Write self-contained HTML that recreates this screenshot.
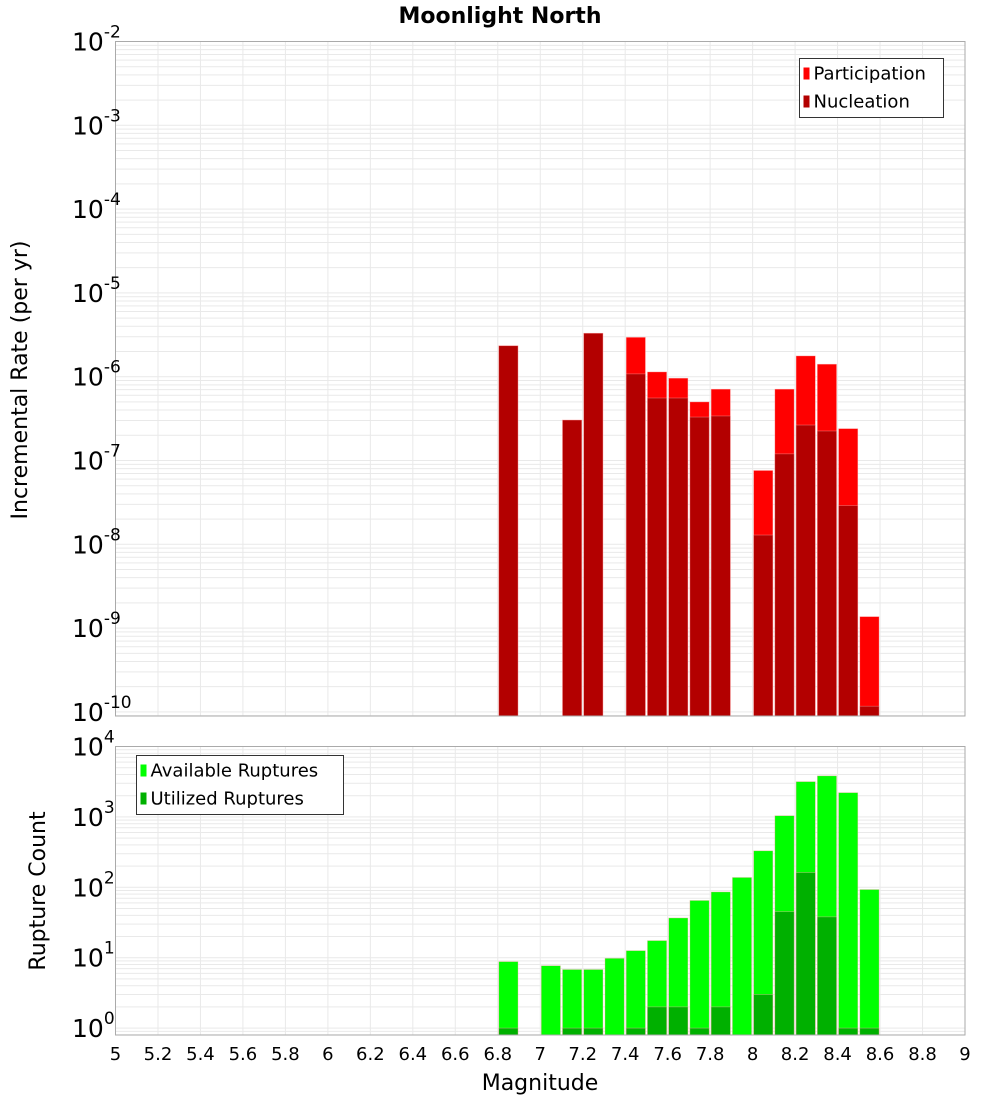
<!DOCTYPE html>
<html><head><meta charset="utf-8"><style>
body{margin:0;background:#fff;font-family:"Liberation Sans","DejaVu Sans",sans-serif}
svg text{font-family:"DejaVu Sans","Liberation Sans",sans-serif}
</style></head><body>
<svg id="c" width="1000" height="1100" xmlns="http://www.w3.org/2000/svg"></svg>
<script>
const mags=[6.8,7.0,7.1,7.2,7.3,7.4,7.5,7.6,7.7,7.8,7.9,8.0,8.1,8.2,8.3,8.4,8.5];
const participation=[2.34e-6,0,3.04e-7,3.3e-6,0,2.95e-6,1.14e-6,9.6e-7,5.0e-7,7.1e-7,0,7.6e-8,7.1e-7,1.77e-6,1.41e-6,2.4e-7,1.37e-9];
const nucleation=[2.34e-6,0,3.04e-7,3.3e-6,0,1.08e-6,5.57e-7,5.57e-7,3.3e-7,3.4e-7,0,1.29e-8,1.2e-7,2.65e-7,2.25e-7,2.9e-8,1.17e-10];
const available=[8.8,7.7,6.8,6.8,9.8,12.6,17.5,36.7,65,86,138,330,1040,3170,3830,2210,93];
const utilized=[1,0,1,1,0,1,2,2,1,2,0,3,45,162,38,1,1];
const xTicks=[5,5.2,5.4,5.6,5.8,6,6.2,6.4,6.6,6.8,7,7.2,7.4,7.6,7.8,8,8.2,8.4,8.6,8.8,9];
const topExp=[-2,-3,-4,-5,-6,-7,-8,-9,-10];
const botExp=[4,3,2,1,0];

const svg=document.getElementById('c');const NS='http://www.w3.org/2000/svg';
function el(t,a,p){const e=document.createElementNS(NS,t);for(const k in a)e.setAttribute(k,a[k]);(p||svg).appendChild(e);return e;}
const X0=115.5,X1=965;
const x=m=>X0+(m-5)/4*(X1-X0);
const T={top:41.5,bot:716,d:83.8};
const yT=v=>T.top+(-2-Math.log10(v))*T.d;
const B={top:746.5,bot:1035,d:70.4};
const yB=v=>B.top+(4-Math.log10(v))*B.d;

function grid(P,yf,e0,e1,name){
  const g=el('g',{});
  
  
  for(let e=e0;e<=e1;e++)for(let k=1;k<10;k++){const y=yf(k*Math.pow(10,e));if(y<P.top||y>P.bot)continue;
    el('line',{x1:X0,x2:X1,y1:y,y2:y,stroke:'#e9e9e9','stroke-width':1},g);}
  xTicks.forEach(t=>el('line',{x1:x(t),x2:x(t),y1:P.top,y2:P.bot,stroke:'#e9e9e9','stroke-width':1},g));
}
grid(T,yT,-11,-2,'top-grid');
grid(B,yB,-1,4,'bottom-grid');

function bars(vals,yf,P,fill,name){
  vals.forEach((v,i)=>{if(!v)return;const y=Math.max(yf(v),P.top);
    const r=el('rect',{x:x(mags[i])+1,y:y,width:x(mags[i]+0.1)-x(mags[i])-2,height:P.bot-y,fill:fill,stroke:'#ffb0b0','stroke-width':0.6,'stroke-opacity':0.6});
    
    });
}
bars(participation,yT,T,'#ff0000','participation-bar');
bars(nucleation,yT,T,'#b30000','nucleation-bar');
bars(available,yB,B,'#00ff00','available-bar');
bars(utilized,yB,B,'#00b000','utilized-bar');

[T,B].forEach((P,i)=>{const r=el('rect',{x:X0,y:P.top,width:X1-X0,height:P.bot-P.top,fill:'none',stroke:'#aaa','stroke-width':1});
  });

function ylab(e,y,name){const t=el('text',{x:108,y:y+9,'text-anchor':'end','font-size':25,fill:'#000'});
  
  t.textContent='10';const s=el('tspan',{dy:-13,'font-size':17},t);s.textContent=String(e).replace('-','-');
  t.setAttribute('text-anchor','start');t.setAttribute('x',72);}
topExp.forEach(e=>ylab(e,yT(Math.pow(10,e)),'top-y-tick-label'));
botExp.forEach(e=>ylab(e,yB(Math.pow(10,e)),'bottom-y-tick-label'));
xTicks.forEach(t=>{const s=el('text',{x:x(t),y:1060,'text-anchor':'middle','font-size':18,fill:'#000'});
  s.textContent=String(t);});

function txt(s,a,name){const t=el('text',a);t.textContent=s;return t;}
txt('Moonlight North',{x:500,y:23,'text-anchor':'middle','font-size':22,'font-weight':'bold'},'chart-title');
txt('Magnitude',{x:540,y:1090,'text-anchor':'middle','font-size':22},'x-axis-title');
txt('Incremental Rate (per yr)',{x:0,y:0,'text-anchor':'middle','font-size':22,transform:'translate(27,380) rotate(-90)'},'top-y-axis-title');
txt('Rupture Count',{x:0,y:0,'text-anchor':'middle','font-size':22,transform:'translate(45,891) rotate(-90)'},'bottom-y-axis-title');

function legend(x0,y0,w,items,name){const g=el('g',{});
  el('rect',{x:x0,y:y0,width:w,height:59,fill:'#fff',stroke:'#333','stroke-width':1},g);
  items.forEach((it,i)=>{el('rect',{x:x0+4,y:y0+9+i*28,width:6,height:12,fill:it[1]},g);
    const t=el('text',{x:x0+14,y:y0+21+i*28,'font-size':18},g);t.textContent=it[0];
    });}
legend(799.5,58.5,144,[['Participation','#ff0000'],['Nucleation','#b30000']],'top-legend');
legend(136.5,755.5,207,[['Available Ruptures','#00ff00'],['Utilized Ruptures','#00b000']],'bottom-legend');
</script>
</body></html>
